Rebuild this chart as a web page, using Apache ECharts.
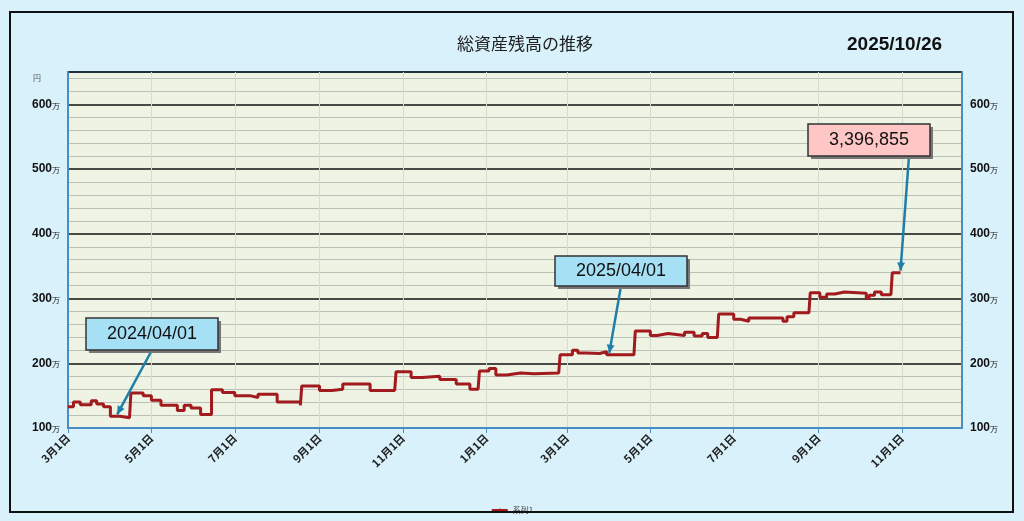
<!DOCTYPE html>
<html><head><meta charset="utf-8">
<script src="https://cdn.jsdelivr.net/npm/echarts@6/dist/echarts.min.js"></script>
<style>html,body{margin:0;background:#fff}#c{width:1024px;height:521px}</style>
</head><body><div id="c"></div>
<script>
// step dates and balances (万円)
var stepDates = ['2024-03-01','2024-03-05','2024-03-10','2024-03-18','2024-03-22','2024-03-27','2024-04-01','2024-04-08','2024-04-15',
  '2024-04-16','2024-04-25','2024-05-01','2024-05-08','2024-05-20','2024-05-25','2024-05-30','2024-06-06',
  '2024-06-14','2024-06-22','2024-07-01','2024-07-12','2024-07-18','2024-08-01','2024-08-18',
  '2024-08-19','2024-09-01','2024-09-10','2024-09-18','2024-10-08','2024-10-26',
  '2024-10-27','2024-11-07','2024-11-15','2024-11-28','2024-12-10','2024-12-20','2024-12-26',
  '2024-12-27','2025-01-03','2025-01-08','2025-01-16','2025-01-26','2025-02-05','2025-02-23',
  '2025-02-24','2025-03-05','2025-03-09','2025-03-15','2025-03-25','2025-03-30','2025-04-19',
  '2025-04-20','2025-05-01','2025-05-06','2025-05-14','2025-05-26','2025-06-02','2025-06-08','2025-06-12','2025-06-19',
  '2025-06-20','2025-07-01','2025-07-06','2025-07-12','2025-08-06','2025-08-09','2025-08-14','2025-08-19','2025-08-25',
  '2025-08-26','2025-09-02','2025-09-07','2025-09-13','2025-09-20','2025-10-06','2025-10-08','2025-10-12','2025-10-17','2025-10-24',
  '2025-10-25','2025-10-31'];
var stepValues = [133,140,136,142,137,133,118,116,115,
  154,150,143,135,127,135,131,121,
  159,155,150,147,152,140,135,
  165,158,160,168,158,158,
  187,178,180,175,168,160,160,
  188,192,182,185,184,185,185,
  213,220,216,215,218,213,213,
  250,243,246,243,248,242,246,240,240,
  276,268,265,270,265,272,278,278,278,
  309,302,307,310,308,300,305,310,306,306,
  340,340];
var yTicks = [100,200,300,400,500,600];
var finalValue = '3,396,855';
var headerDate = '2025/10/26';

var days = [];
for (var d = new Date(Date.UTC(2024,2,1)); d <= new Date(Date.UTC(2025,11,15)); d.setUTCDate(d.getUTCDate()+1)) {
  days.push(d.toISOString().slice(0,10));
}
var lineData = stepDates.map(function (s, i) { return [s, stepValues[i]]; });
function isMark(i) { var s = days[i]; return s.slice(8) === '01' && (+s.slice(5,7)) % 2 === 1; }

var chart = echarts.init(document.getElementById('c'));
chart.setOption({
  backgroundColor: '#d8f1fb',
  animation: false,
  textStyle: { fontFamily: 'Noto Sans CJK JP' },
  title: [
    { text: '総資産残高の推移', left: 452, top: 30, textStyle: { fontSize: 17, fontWeight: 'normal', color: '#222' } },
    { text: headerDate, left: 842, top: 30, textStyle: { fontSize: 19, fontWeight: 'bold', color: '#111', fontFamily: 'Liberation Sans' } }
  ],
  legend: { bottom: 2, left: 'center', itemWidth: 16, itemHeight: 4, textStyle: { fontSize: 8, color: '#444' }, data: ['系列1'] },
  grid: { left: 68, right: 62, top: 72, bottom: 93, show: true, backgroundColor: '#eef3e4', borderColor: '#4a8cc4', borderWidth: 2 },
  xAxis: {
    type: 'category', data: days, boundaryGap: false,
    axisLine: { lineStyle: { color: '#4a8cc4', width: 2 } },
    axisTick: { interval: function (i) { return isMark(i); }, lineStyle: { color: '#4a8cc4' } },
    axisLabel: { interval: function (i) { return isMark(i); }, rotate: 45, color: '#222', fontWeight: 'bold', fontSize: 11,
      formatter: function (v) { return (+v.slice(5,7)) + '月1日'; } },
    splitLine: { show: true, interval: function (i) { return isMark(i); }, lineStyle: { color: '#d4dccf', width: 1 } }
  },
  yAxis: [0, 1].map(function (k) {
    return {
      type: 'value', min: 100, max: 650, interval: 50, position: k ? 'right' : 'left',
      axisLine: { show: true, lineStyle: { color: '#4a8cc4', width: 2 } },
      axisTick: { show: false },
      axisLabel: { color: '#111', fontWeight: 'bold', fontSize: 12, fontFamily: 'Liberation Sans',
        formatter: function (v) { return yTicks.indexOf(v) >= 0 ? v + '{u|万}' : ''; },
        rich: { u: { fontSize: 8, fontWeight: 'normal', verticalAlign: 'bottom' } } },
      splitLine: { show: !k, lineStyle: { color: '#111', width: 1.5 } },
      minorTick: { show: false },
      minorSplitLine: { show: !k, lineStyle: { color: '#b9c1b8' } },
      splitNumber: 5
    };
  }),
  series: [{
    name: '系列1', type: 'line', step: 'end', data: lineData, symbol: 'none',
    lineStyle: { color: '#a11a1d', width: 3 }, itemStyle: { color: '#a11a1d' }
  }]
});
// horizontal lines at 100 and 50 intervals: hide 50-lines by using splitLine on only 100s
chart.setOption({ yAxis: [{ interval: 100, minorSplitLine: { show: true } , splitNumber: 5}, {interval: 100}] });
chart.setOption({ yAxis: [{ minorTick: { splitNumber: 5 } }, {}] });

function callout(dateStr, val, bx, by, w, h, txt, fill) {
  var p = chart.convertToPixel({ xAxisIndex: 0, yAxisIndex: 0 }, [dateStr, val]);
  var sx = bx + w / 2 + (fill === '#ffc6c6' ? 40 : 0);
  return [
    { type: 'line', shape: { x1: sx, y1: by + h, x2: p[0], y2: p[1] - 2 }, style: { stroke: '#1f7fa8', lineWidth: 2.5 }, z: 10 },
    { type: 'polygon', shape: { points: (function () {
        var a = Math.atan2(p[1] - 2 - (by + h), p[0] - sx), L = 9, s = 0.45;
        return [[p[0], p[1] - 2], [p[0] - L * Math.cos(a - s), p[1] - 2 - L * Math.sin(a - s)], [p[0] - L * Math.cos(a + s), p[1] - 2 - L * Math.sin(a + s)]];
      })() }, style: { fill: '#1f7fa8' }, z: 10 },
    { type: 'rect', shape: { x: bx + 3, y: by + 3, width: w, height: h }, style: { fill: '#777' }, z: 10 },
    { type: 'rect', shape: { x: bx, y: by, width: w, height: h }, style: { fill: fill, stroke: '#333', lineWidth: 1.5 }, z: 11 },
    { type: 'text', x: bx + w / 2, y: by + h / 2, style: { text: txt, fill: '#111', font: '18px "Liberation Sans"', align: 'center', verticalAlign: 'middle' }, z: 12 }
  ];
}
chart.setOption({ graphic: [].concat(
  callout('2024-04-06', 118, 86, 318, 132, 32, '2024/04/01', '#a6e0f5'),
  callout('2025-04-01', 213, 555, 256, 132, 30, '2025/04/01', '#a6e0f5'),
  callout('2025-10-31', 340, 808, 124, 122, 32, finalValue, '#ffc6c6'),
  [{ type: 'rect', shape: { x: 10, y: 12, width: 1003, height: 500 }, style: { fill: 'none', stroke: '#111', lineWidth: 2 }, z: 20 },
   { type: 'text', x: 33, y: 74, style: { text: '円', fill: '#555', font: '8px "Noto Sans CJK JP"' } }]
)});
</script></body></html>
